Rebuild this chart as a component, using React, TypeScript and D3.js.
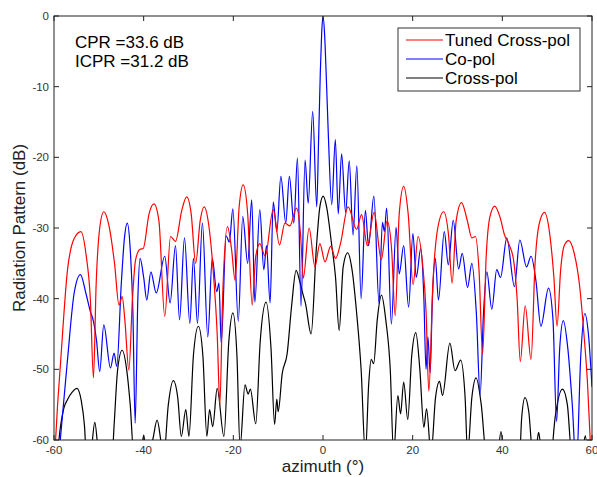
import React from "react";
import * as d3 from "d3";

const xTicks = [-60, -40, -20, 0, 20, 40, 60];
const yTicks = [0, -10, -20, -30, -40, -50, -60];
const seriesNames = ["Tuned Cross-pol", "Co-pol", "Cross-pol"];
const seriesColors = ["#ff0000", "#0000ff", "#000000"];
const annotations = ["CPR =33.6 dB", "ICPR =31.2 dB"];

// Tuned Cross-pol [azimuth, dB]
const tuned: [number, number][] = [
  [-60, -64], [-59.2, -55], [-58.5, -48.7], [-57.0, -36], [-55.5, -31.5], [-54.0, -30.5], [-52.8, -34], [-51.9, -40],
  [-51.2, -51.2], [-50.6, -38], [-49.8, -30], [-48.9, -27.7], [-47.8, -29.5], [-46.5, -35], [-45.5, -40.9], [-44.8, -39.7],
  [-44.2, -43], [-43.3, -50.1], [-42.5, -40], [-41.8, -34.5], [-40.8, -33.0], [-40.1, -32.9], [-38.8, -28], [-37.7, -26.6],
  [-36.6, -29], [-35.3, -42.5], [-34.0, -31.2], [-32.9, -31.9], [-31.5, -27.5], [-30.4, -25.6], [-29.4, -28], [-28.4, -35.0],
  [-27.4, -29], [-26.5, -27.0], [-25.5, -29.5], [-24.5, -36], [-23.6, -45], [-23.0, -55.0], [-22.4, -40], [-21.3, -29.8],
  [-20.4, -33], [-19.6, -37.4], [-18.7, -27], [-17.8, -23.9], [-16.8, -28], [-15.8, -40.9], [-15.0, -34], [-14.1, -32.2],
  [-12.9, -34.0], [-11.1, -27.4], [-9.7, -32.4], [-8.5, -29.3], [-7.4, -29.7], [-5.9, -27.2], [-5.0, -31], [-4.4, -37.1],
  [-3.1, -30.0], [-1.8, -35.5], [-0.7, -32.2], [0.45, -34.8], [1.7, -32.6], [2.8, -34.3], [3.9, -32.2], [5.6, -27.0],
  [7.5, -30.2], [8.6, -28.1], [9.9, -32.5], [11.4, -27.8], [13.0, -34.5], [14.3, -29], [15.3, -33], [16.1, -42.4],
  [17.0, -28], [18.0, -24.1], [19.0, -28], [20.1, -38], [21.2, -31.2], [22.2, -35], [23.0, -42], [23.6, -53.1],
  [24.5, -38], [25.6, -30], [26.9, -27.7], [28.0, -31], [28.8, -37.8], [29.7, -29], [30.9, -26.4], [32.2, -29],
  [33.2, -31.4], [34.0, -31.2], [34.8, -36], [35.6, -47.8], [36.4, -34], [37.2, -28.5], [38.3, -26.9], [39.5, -28.5],
  [40.5, -31], [41.4, -32.2], [42.5, -34.5], [43.3, -40], [44.0, -48.9], [45.1, -41.0], [46.4, -48.6], [47.3, -35],
  [48.2, -29.5], [49.4, -27.8], [50.6, -31], [51.5, -37], [52.2, -43.9], [53.0, -36], [53.8, -32.5], [54.8, -31.8],
  [56.0, -33.5], [57.2, -38], [58.2, -45], [59.0, -52], [59.6, -60], [60, -64],
];

// Co-pol [azimuth, dB]
const copol: [number, number][] = [
  [-59.2, -64], [-58.6, -60], [-57.0, -48.7], [-55.5, -39.2], [-54.1, -36.6], [-52.9, -39.2], [-51.9, -41.8], [-51.2, -43.2],
  [-50.5, -46], [-49.8, -50.3], [-48.9, -43.7], [-47.4, -49.8], [-46.6, -47.7], [-46.0, -49.6], [-45.0, -38], [-44.3, -31.5],
  [-43.65, -29.3], [-43.0, -33], [-42.4, -42], [-41.9, -57.6], [-41.3, -40], [-40.8, -34.3], [-40.0, -37], [-39.3, -40.2],
  [-38.4, -36.2], [-37.2, -39.2], [-35.3, -34.0], [-34.1, -40.6], [-32.9, -32.5], [-32.0, -43], [-30.9, -31.4], [-29.7, -43.5],
  [-28.9, -34.3], [-28.0, -43.5], [-26.9, -29.3], [-25.7, -45.4], [-24.7, -34.3], [-23.7, -39], [-23.2, -37.8], [-22.7, -46.3],
  [-21.6, -31.1], [-20.9, -32], [-20.1, -27.3], [-18.9, -43.2], [-17.9, -28.4], [-16.8, -35.0], [-15.9, -26.0], [-15.2, -40.5],
  [-14.1, -27.4], [-13.2, -35.9], [-12.6, -32.5], [-11.8, -40.6], [-11.1, -26.3], [-10.3, -30.5], [-9.4, -22.7], [-8.3, -29.3],
  [-7.5, -22.7], [-6.5, -29.3], [-5.7, -20.1], [-4.9, -41.1], [-4.0, -20.4], [-3.3, -26.5], [-2.3, -13.5], [-1.4, -27.0],
  [-1.0, -18], [-0.6, -8], [-0.3, -2.5], [0, 0], [0.35, -2.5], [0.7, -8], [1.2, -17], [1.95, -26.7],
  [2.75, -17.5], [3.4, -28], [4.15, -19.5], [5.05, -27.8], [5.85, -20.5], [6.7, -31], [7.55, -21.2], [8.5, -40],
  [9.45, -27.5], [10.15, -32.5], [11.35, -25.5], [12.5, -40.7], [13.25, -29.2], [13.7, -30.5], [14.2, -27.2], [15.25, -43.6],
  [16.3, -29.9], [17.0, -36.5], [18.0, -32.5], [19.1, -41.2], [20.05, -30.8], [20.8, -37], [21.8, -32.9], [22.5, -40],
  [22.98, -50], [23.4, -45.4], [23.9, -50.5], [24.4, -40], [25.05, -34.3], [25.75, -40.2], [27.05, -30.5], [27.95, -35.2],
  [29.05, -28.9], [30.25, -35.8], [31.05, -33.6], [32.25, -38.4], [33.2, -35], [34.2, -42], [35.05, -53.6], [35.8, -42],
  [36.55, -36.2], [37.65, -41.5], [38.75, -35.9], [39.6, -37], [41.0, -31.4], [42.7, -38.3], [43.9, -31.7], [45.4, -35.5],
  [46.4, -34.0], [47.5, -37.5], [48.6, -43.9], [50.3, -38.5], [51.3, -43], [52.1, -57.4], [52.8, -47], [53.6, -43.1],
  [54.6, -47], [55.6, -55], [56.5, -64], [57.5, -48], [58.4, -42.1], [59.2, -45], [60, -52.5],
];

// Cross-pol [azimuth, dB]
const crosspol: [number, number][] = [
  [-59.4, -64], [-58.9, -60], [-57.8, -55.5], [-57.0, -54.3], [-55.9, -53.2], [-54.9, -52.7], [-53.9, -54.5], [-53.2, -58],
  [-52.7, -63], [-51.8, -62], [-50.9, -57.5], [-50.0, -62], [-47.2, -64], [-46.6, -58], [-45.8, -50], [-44.8, -47.3],
  [-43.8, -50], [-43.0, -55], [-42.2, -62], [-40.6, -62], [-40.0, -59.3], [-39.4, -62], [-38.0, -60], [-37.0, -57.2],
  [-36.2, -60], [-35.6, -63], [-34.5, -55], [-33.4, -51.6], [-32.4, -54], [-31.6, -59.5], [-30.6, -55.7], [-29.9, -59.5],
  [-28.9, -48], [-27.8, -43.9], [-26.8, -48], [-25.9, -59.5], [-25.3, -55.7], [-24.6, -58.1], [-23.6, -52.7], [-22.1, -59.5],
  [-21.0, -46], [-20.1, -42.0], [-19.2, -48], [-18.5, -61], [-17.4, -52.2], [-16.7, -53.5], [-16.2, -52.8], [-15.0, -57.7],
  [-14.0, -46], [-12.7, -40.5], [-11.6, -47], [-10.8, -57.8], [-10.3, -54.2], [-10.0, -56], [-9.1, -50.6], [-8.0, -47.8],
  [-7.0, -41], [-6.0, -36.0], [-5.2, -37.5], [-4.5, -39.3], [-3.9, -40.7], [-2.65, -45.0], [-1.5, -33], [-0.7, -27],
  [0.05, -25.5], [0.8, -27], [1.9, -32.2], [2.8, -37], [3.6, -44.5], [4.5, -35.5], [5.5, -33.5], [6.5, -36],
  [7.5, -42], [8.5, -50], [9.45, -62], [10.2, -52], [10.75, -48.6], [11.3, -49.2], [12.1, -43], [13.05, -39.5],
  [14.0, -43], [15.0, -50], [15.75, -62], [16.7, -53.7], [17.3, -56.3], [18.0, -51.8], [18.9, -57.1], [19.8, -48],
  [20.7, -44.8], [21.6, -50], [22.5, -58.2], [23.1, -55.6], [24.1, -62], [25.1, -54], [26.0, -51.7], [26.65, -53.7],
  [28.3, -46.3], [29.45, -50.2], [30.7, -48.7], [31.7, -54], [32.25, -62], [33.2, -54], [34.15, -51.2], [35.3, -55],
  [36.4, -62], [38.8, -63], [39.7, -58.8], [40.5, -63], [43.8, -63], [44.3, -57], [45.05, -54], [45.9, -56],
  [46.8, -62], [47.6, -61], [48.1, -58.9], [48.6, -61], [50.7, -63], [51.8, -56.7], [53.4, -52.8], [54.5, -55],
  [55.5, -62], [57.8, -62], [58.5, -59.4], [59.0, -62],
];

const W = 597;
const H = 477;
const L = 54, R = 592, T = 16, B = 440;
const FONT = "'Liberation Sans', Arial, Helvetica, sans-serif";

export default function App() {
  const x = d3.scaleLinear().domain([-60, 60]).range([L, R]);
  const y = d3.scaleLinear().domain([-60, 0]).range([B, T]);
  const line = d3
    .line<[number, number]>()
    .x((d) => x(d[0]))
    .y((d) => y(d[1]))
    .curve(d3.curveMonotoneX);
  const all = [tuned, copol, crosspol];
  const tickLen = 5;
  return (
    <svg width={W} height={H} style={{ position: "absolute", left: 0, top: 0, background: "#fff" }}>
      <defs>
        <clipPath id="plotclip">
          <rect x={L} y={T} width={R - L} height={B - T} />
        </clipPath>
      </defs>
      <rect x={0} y={0} width={W} height={H} fill="#fff" />
      <g clipPath="url(#plotclip)">
        {[2, 1, 0].map((i) => (
          <path key={i} d={line(all[i]) || ""} fill="none" stroke={seriesColors[i]} strokeWidth={1.2} strokeLinejoin="round" />
        ))}
      </g>
      <rect x={L} y={T} width={R - L} height={B - T} fill="none" stroke="#222" strokeWidth={1} />
      {xTicks.map((t) => (
        <g key={"x" + t}>
          <line x1={x(t)} x2={x(t)} y1={B} y2={B - tickLen} stroke="#222" />
          <line x1={x(t)} x2={x(t)} y1={T} y2={T + tickLen} stroke="#222" />
          <text x={x(t)} y={B + 14} textAnchor="middle" fontSize={11.5} fontFamily={FONT} fill="#333">
            {t}
          </text>
        </g>
      ))}
      {yTicks.map((t) => (
        <g key={"y" + t}>
          <line x1={L} x2={L + tickLen} y1={y(t)} y2={y(t)} stroke="#222" />
          <line x1={R} x2={R - tickLen} y1={y(t)} y2={y(t)} stroke="#222" />
          <text x={L - 5} y={y(t) + 4} textAnchor="end" fontSize={11.5} fontFamily={FONT} fill="#333">
            {t}
          </text>
        </g>
      ))}
      <text x={(L + R) / 2} y={472} textAnchor="middle" fontSize={17} fontFamily={FONT} fill="#222">
        azimuth (°)
      </text>
      <text
        transform={`translate(25,${(T + B) / 2}) rotate(-90)`}
        textAnchor="middle"
        fontSize={17}
        fontFamily={FONT}
        fill="#222"
      >
        Radiation Pattern (dB)
      </text>
      {annotations.map((a, i) => (
        <text key={a} x={75} y={48 + i * 19} fontSize={17} fontFamily={FONT} fill="#000">
          {a}
        </text>
      ))}
      <rect x={398} y={28} width={182} height={63} fill="#fff" stroke="#333" strokeWidth={1} />
      {seriesNames.map((n, i) => (
        <g key={n}>
          <line x1={406} x2={443} y1={40 + i * 19} y2={40 + i * 19} stroke={seriesColors[i]} strokeWidth={1.2} />
          <text x={445} y={46 + i * 19} fontSize={17} fontFamily={FONT} fill="#000">
            {n}
          </text>
        </g>
      ))}
    </svg>
  );
}
